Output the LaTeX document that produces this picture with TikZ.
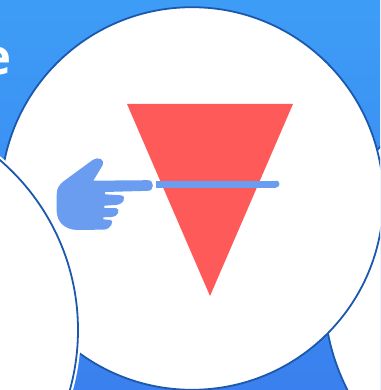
\documentclass[tikz,border=0pt]{standalone}
\usepackage{fontspec}
\setmainfont{Open Sans}
\usetikzlibrary{backgrounds}
\definecolor{skytop}{HTML}{3D9DF6}
\definecolor{skybottom}{HTML}{3A80EE}
\definecolor{rim}{HTML}{1C59AE}
\definecolor{wedge}{HTML}{FF5A5A}
\definecolor{pointer}{HTML}{6A9CF0}
\tikzset{
  disc/.style={draw=rim, line width=1.8pt, fill=white},
  cutline/.style={draw=pointer, line width=7pt},
}
\begin{document}
\begin{tikzpicture}[x=1pt, y=-1pt]
  \useasboundingbox (0,0) rectangle (380,390);
  \begin{scope}
    \clip (0,0) rectangle (380,390);
    % Backdrop
    \shade[top color=skytop, bottom color=skybottom] (0,0) rectangle (380,390);
    \node[font=\bfseries, text=white, scale=4.9, inner sep=0pt, anchor=base east] (word) at (12.5,75) {e};

    % Neighbouring circles and the main one
    \draw[disc] (540,292) circle (216);
    \draw[disc] (192,198.5) circle (191.3);
    \draw[white, line width=3pt] (-146,330) circle (225.5);
    \draw[disc] (-146,330) circle (224);

    % Triangle with its cut
    \fill[wedge] (127,104) -- (293,104) -- (210,296) -- cycle;
    \draw[cutline] (156,184) -- (276,184);
    \fill[pointer] (276,180.5) arc[start angle=-90, end angle=90, radius=3.5] -- cycle;

    % Pointing hand
    \fill[pointer] (93.3,180.7) -- (148,180.2)
      .. controls (154.5,180.2) and (154.5,190.8) .. (148,190.8)
      -- (105,192) -- (105,194.3) -- (121,195.3)
      .. controls (127,196) and (124,205) .. (115,205)
      -- (104.3,205.7) -- (104.3,208) -- (116,208)
      .. controls (121,209) and (118,217) .. (111.7,217)
      -- (103.3,217.3) -- (103.3,219.3) -- (111,220)
      .. controls (114,221) and (111,229.3) .. (104,229.6)
      -- (78,230)
      .. controls (64,230) and (56.7,221) .. (56.7,211)
      -- (56.7,195)
      .. controls (56.7,188) and (59,185) .. (64,181)
      -- (92,160.5)
      .. controls (99,155.5) and (105,160) .. (102.7,165)
      -- cycle;
  \end{scope}
\end{tikzpicture}
\end{document}
